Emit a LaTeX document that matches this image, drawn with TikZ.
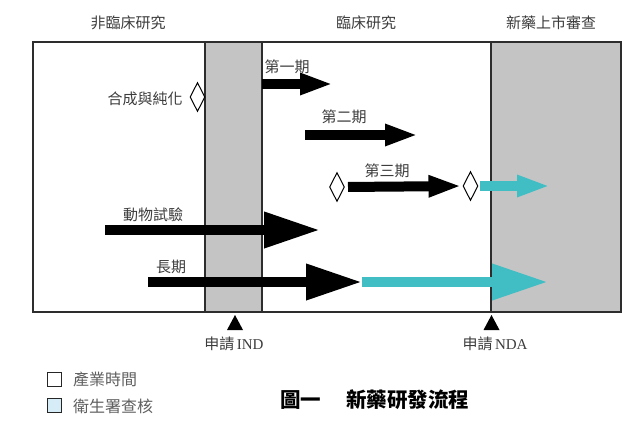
\documentclass[tikz,border=0pt]{standalone}
\usepackage{fontspec}
\setmainfont{Liberation Serif}
\newfontfamily\cjk{Noto Sans CJK TC}
\usetikzlibrary{arrows.meta,shapes.geometric}
\definecolor{stripgray}{RGB}{196,196,196}
\definecolor{fdacyan}{RGB}{64,190,196}
\definecolor{legblue}{RGB}{214,236,246}
\definecolor{linegray}{RGB}{45,45,45}
\definecolor{txtgray}{RGB}{60,60,60}
\definecolor{legtxt}{RGB}{95,95,95}
\begin{document}
\begin{tikzpicture}[x=1pt,y=-1pt,
  lbl/.style={font=\cjk\fontsize{15}{15}\selectfont, text=txtgray, inner sep=0pt},
  leglbl/.style={font=\cjk\fontsize{16}{16}\selectfont, text=legtxt, inner sep=0pt, anchor=west},
  frame/.style={draw=linegray, line width=1.2pt},
  strip/.style={draw=linegray, fill=stripgray, line width=1.2pt},
  gem/.style={diamond, draw=black, line width=1pt, fill=white, aspect=0.5,
    minimum width=15pt, minimum height=29pt, inner sep=0pt},
  smallarrow/.style={line width=10pt, -{Triangle[length=33pt,width=20pt]}},
  bigarrow/.style={line width=10pt, -{Triangle[length=56pt,width=34pt]}},
  legbox/.style={draw=black!85, line width=1.3pt, minimum size=14pt, inner sep=0pt},
]
\useasboundingbox (0,0) rectangle (640,428);

% frame and strips
\draw[frame] (33,42) rectangle (621,312);
\draw[strip] (205,42) rectangle (262,312);
\draw[strip] (491,42) rectangle (621,312);

% headers
\node[lbl] (h1) at (128,23) {非臨床研究};
\node[lbl] (h2) at (366,23) {臨床研究};
\node[lbl] (h3) at (551,23) {新藥上市審查};

% phase 1
\coordinate (p1s) at (262,84);
\coordinate (p1e) at (333,84);
\draw[smallarrow, black] (p1s) -- (p1e);
\node[lbl] (l1) at (287,67) {第一期};

% synthesis
\node[lbl] (syn) at (145,99) {合成與純化};
\node[gem] (dsyn) at (197.5,97) {};

% phase 2
\coordinate (p2s) at (305,135);
\coordinate (p2e) at (418,135);
\draw[smallarrow, black] (p2s) -- (p2e);
\node[lbl] (l2) at (344,117) {第二期};

% phase 3
\node[gem] (d3a) at (337,187) {};
\node[gem] (d3b) at (470.5,186) {};
\draw[smallarrow, black, shorten <=3pt, shorten >=1pt] (d3a.east) -- (d3b.west);
\node[lbl] (l3) at (387,171) {第三期};
\coordinate (p3e) at (550,186);
\draw[smallarrow, fdacyan, shorten <=1pt] (d3b.east) -- (p3e);

% animal test
\coordinate (as) at (105,230);
\coordinate (ae) at (320,230);
\draw[bigarrow, black] (as) -- (ae);
\node[lbl] (la) at (153,215) {動物試驗};

% long term
\coordinate (ls) at (148,282);
\coordinate (lj) at (362,282);
\coordinate (le) at (548,282);
\draw[bigarrow, black] (ls) -- (lj);
\draw[bigarrow, fdacyan] (lj) -- (le);
\node[lbl] (ll) at (171,267) {長期};

% markers
\fill[black] (235,315) -- (243,330) -- (227,330) -- cycle;
\fill[black] (491.5,315) -- (499.5,330) -- (483.5,330) -- cycle;
\node[lbl] (ind) at (234,344) {申請\,{\rmfamily\fontsize{15}{15}\selectfont IND}};
\node[lbl] (nda) at (495,344) {申請\,{\rmfamily\fontsize{15}{15}\selectfont NDA}};

% legend
\node[legbox] (lg1) at (54.5,379.5) {};
\node[legbox, fill=legblue] (lg2) at (54.5,405.5) {};
\node[leglbl] (lt1) at (73,379) {產業時間};
\node[leglbl] (lt2) at (73,406) {衛生署查核};

% title
\node[font=\cjk\bfseries\fontsize{20.5}{20.5}\selectfont, text=black, inner sep=0pt, anchor=west] (title) at (280,400) {圖一\hspace{25pt}新藥研發流程};
\end{tikzpicture}
\end{document}
